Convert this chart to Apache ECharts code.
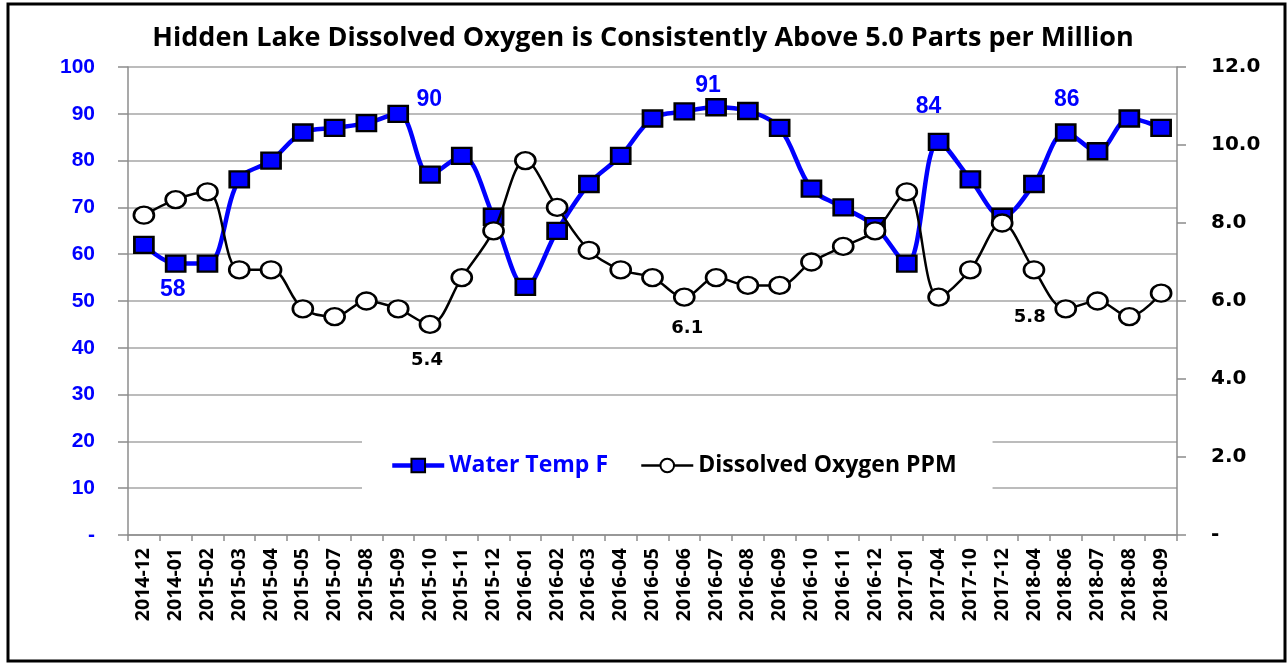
<!DOCTYPE html>
<html>
<head>
<meta charset="utf-8">
<script src="https://cdn.jsdelivr.net/npm/echarts@6/dist/echarts.min.js"></script>
<style>
  html, body { margin: 0; padding: 0; background: #fff; }
  #main { width: 1288px; height: 664px; }
</style>
</head>
<body>
<div id="main"></div>
<script>
    var myChart = echarts.init(document.getElementById('main'));

    // x軸の日付
    var months = ['2014-12', '2014-01', '2015-02', '2015-03', '2015-04', '2015-05', '2015-07',
        '2015-08', '2015-09', '2015-10', '2015-11', '2015-12', '2016-01', '2016-02', '2016-03',
        '2016-04', '2016-05', '2016-06', '2016-07', '2016-08', '2016-09', '2016-10', '2016-11',
        '2016-12', '2017-01', '2017-04', '2017-10', '2017-12', '2018-04', '2018-06', '2018-07',
        '2018-08', '2018-09'];

    // 水温 (F)
    var waterTemp = [62, 58, 58, 76, 80, 86, 87, 88, 90, 77, 81, 68, 53, 65, 75,
        81, 89, 90.5, 91.4, 90.6, 87, 74, 70, 66, 58, 84, 76, 68, 75, 86, 82, 89, 87];

    // 溶存酸素 (PPM)
    var dissolvedOxygen = [8.2, 8.6, 8.8, 6.8, 6.8, 5.8, 5.6, 6.0, 5.8, 5.4, 6.6, 7.8, 9.6, 8.4, 7.3,
        6.8, 6.6, 6.1, 6.6, 6.4, 6.4, 7.0, 7.4, 7.8, 8.8, 6.1, 6.8, 8.0, 6.8, 5.8, 6.0, 5.6, 6.2];

    // ラベルを出す点 (index -> offset)
    var tempLabels = { 1: [-3, 26], 8: [31, -14], 18: [-8, -22], 25: [-10, -35], 29: [1, -33] };
    var oxyLabels = { 9: [-3, 36], 17: [3, 31], 29: [-36, 9] };

    var BLUE = '#0000ff';

    var option = {
        animation: false,
        backgroundColor: '#fff',
        title: {
            text: 'Hidden Lake Dissolved Oxygen is Consistently Above 5.0 Parts per Million',
            left: 638,
            textAlign: 'center',
            top: 20,
            textStyle: {
                fontFamily: "'Open Sans', sans-serif",
                fontSize: 27,
                fontWeight: 'bold',
                color: '#000'
            }
        },
        graphic: [{
            type: 'rect',
            shape: { x: 8, y: 4, width: 1277, height: 657 },
            style: { fill: 'none', stroke: '#000', lineWidth: 3 },
            z: 100
        }],
        legend: {
            left: 362,
            top: 436,
            padding: [18, 36, 14, 28],
            backgroundColor: '#fff',
            itemGap: 32,
            itemWidth: 52,
            itemHeight: 17,
            textStyle: {
                fontFamily: "'Open Sans', sans-serif",
                fontWeight: 'bold',
                fontSize: 23,
                color: '#000'
            },
            data: [
                { name: 'Water Temp F', textStyle: { color: BLUE }, lineStyle: { width: 4.5 } },
                { name: 'Dissolved Oxygen PPM', lineStyle: { width: 2.5 } }
            ]
        },
        grid: {
            left: 128,
            right: 111,
            top: 67,
            bottom: 129
        },
        xAxis: {
            type: 'category',
            data: months,
            axisLine: { lineStyle: { color: '#8c8c8c', width: 1.5 } },
            axisTick: { show: true, length: 6, lineStyle: { color: '#8c8c8c', width: 1.5 } },
            axisLabel: {
                rotate: 90,
                interval: 0,
                margin: 13,
                fontFamily: "'Open Sans', sans-serif",
                fontWeight: 'bold',
                fontSize: 19.5,
                color: '#000'
            }
        },
        yAxis: [{
            type: 'value',
            min: 0,
            max: 100,
            interval: 10,
            axisLine: { show: true, lineStyle: { color: '#8c8c8c', width: 1.5 } },
            axisTick: { show: true, length: 10, lineStyle: { color: '#8c8c8c', width: 1.5 } },
            splitLine: { lineStyle: { color: '#a6a6a6', width: 1.5 } },
            axisLabel: {
                margin: 33,
                fontFamily: "'Liberation Sans', Arial, sans-serif",
                fontWeight: 'bold',
                fontSize: 21,
                color: BLUE,
                formatter: function (v) { return v === 0 ? '-' : v; }
            }
        }, {
            type: 'value',
            min: 0,
            max: 12,
            interval: 2,
            position: 'right',
            axisLine: { show: true, lineStyle: { color: '#8c8c8c', width: 1.5 } },
            axisTick: { show: true, length: 9, lineStyle: { color: '#8c8c8c', width: 1.5 } },
            splitLine: { show: false },
            axisLabel: {
                margin: 34,
                fontFamily: "'DejaVu Sans', sans-serif",
                fontWeight: 'bold',
                fontSize: 20,
                color: '#000',
                formatter: function (v) { return v === 0 ? '-' : v.toFixed(1); }
            }
        }],
        series: [{
            name: 'Water Temp F',
            type: 'line',
            yAxisIndex: 0,
            smooth: 0.35,
            symbol: 'rect',
            symbolSize: [19, 16],
            lineStyle: { color: BLUE, width: 4.5 },
            itemStyle: { color: BLUE, borderColor: '#000', borderWidth: 2.5 },
            z: 2,
            data: waterTemp.map(function (v, i) {
                var item = { value: v };
                if (tempLabels[i]) {
                    item.label = {
                        show: true,
                        position: 'inside',
                        offset: tempLabels[i],
                        fontFamily: "'Liberation Sans', Arial, sans-serif",
                        fontWeight: 'bold',
                        fontSize: 23,
                        color: BLUE,
                        formatter: function (p) { return Math.round(p.value); }
                    };
                }
                return item;
            })
        }, {
            name: 'Dissolved Oxygen PPM',
            type: 'line',
            yAxisIndex: 1,
            smooth: 0.35,
            symbol: 'circle',
            symbolSize: [20, 17],
            lineStyle: { color: '#000', width: 2.5 },
            itemStyle: { color: '#fff', borderColor: '#000', borderWidth: 2.5 },
            z: 3,
            data: dissolvedOxygen.map(function (v, i) {
                var item = { value: v };
                if (oxyLabels[i]) {
                    item.label = {
                        show: true,
                        position: 'inside',
                        offset: oxyLabels[i],
                        fontFamily: "'DejaVu Sans', sans-serif",
                        fontWeight: 'bold',
                        fontSize: 18,
                        color: '#000',
                        formatter: function (p) { return p.value.toFixed(1); }
                    };
                }
                return item;
            })
        }]
    };

    myChart.setOption(option);

    window.addEventListener('resize', function () {
        myChart.resize();
    });
</script>
</body>
</html>
